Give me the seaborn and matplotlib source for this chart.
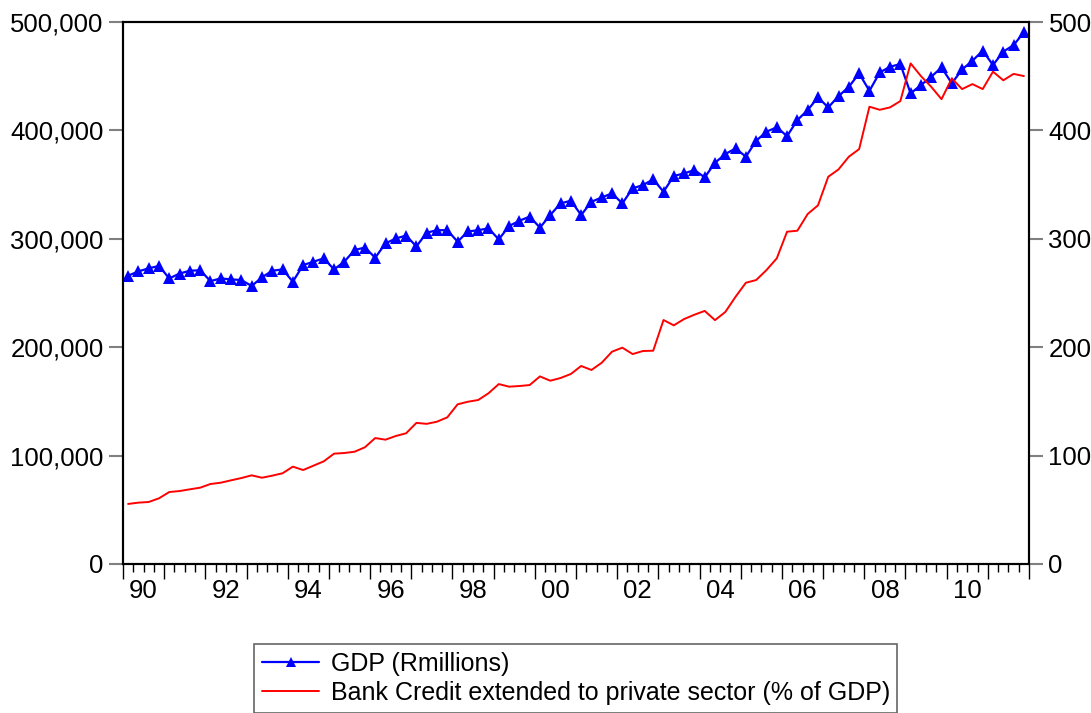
import numpy as np
import pandas as pd
import seaborn as sns
import matplotlib.pyplot as plt
from matplotlib.ticker import FixedLocator, StrMethodFormatter, NullFormatter

# quarterly data 1990Q1 - 2011Q4
gdp = [266, 270, 272.8, 275, 263.5, 268, 270.6, 271, 261, 263.5, 262.6, 262,
       256.5, 264.5, 270.6, 271.8, 260.5, 275.8, 278.9, 282, 271.8, 279, 289.7, 292,
       282.6, 295.8, 300.4, 303, 293, 305.7, 308, 308, 297.4, 306.8, 308, 309.7,
       299.5, 311.8, 316.7, 320.5, 310.4, 322, 332.7, 335.2, 322, 334.2, 338.2, 342,
       332.7, 346.6, 349.6, 354.9, 343.5, 358, 360.4, 363.5, 356.7, 370.2, 378.2, 383.5,
       375.8, 390.5, 398.9, 402.9, 394.8, 409.6, 418.8, 430.5, 421.3, 431.7, 440.3, 452.6,
       436.6, 453.5, 458.8, 461.3, 434.2, 441.9, 449.5, 458.2, 443.5, 456.3, 464.3, 473.6,
       460.4, 472.7, 478.8, 490.5]
gdp = [v * 1000 for v in gdp]  # Rmillions

credit = [55.4, 56.6, 57.2, 60.6, 66.4, 67.3, 68.9, 70.4, 73.8, 75, 77.2, 79.3,
          81.8, 79.6, 81.5, 83.7, 89.8, 86.7, 90.7, 94.7, 101.8, 102.4, 103.6, 107.7,
          116.2, 114.7, 118.1, 120.6, 130.2, 129.3, 131.3, 135.3, 147.3, 149.7, 151.3, 157.5,
          166, 163.6, 164.2, 165.1, 173.1, 169.1, 171.6, 175.3, 182.7, 179, 185.7, 195.9,
          199.6, 193.7, 196.5, 196.8, 225.1, 220.2, 226, 230, 233.5, 225, 232.5, 246.6,
          259.5, 262, 271.2, 282, 306.6, 307.5, 322.9, 330.9, 357.3, 364.1, 375.8, 382.8,
          421.9, 419.1, 421.3, 427.1, 461.9, 450.2, 440.3, 428.9, 448, 438.2, 442.8, 438.2,
          454.3, 446.3, 452.2, 450.2]

year_labels = ['90', '92', '94', '96', '98', '00', '02', '04', '06', '08', '10']

quarters = pd.period_range('1990Q1', '2011Q4', freq='Q')
t = quarters.year + (quarters.quarter - 0.5) / 4
df = pd.DataFrame({'t': t, 'gdp': gdp, 'credit': credit})

sns.set_style("white")
plt.rcParams['font.family'] = ['Liberation Sans', 'DejaVu Sans']
plt.rcParams['font.size'] = 18.5
plt.rcParams['text.color'] = 'black'
plt.rcParams['xtick.color'] = 'black'
plt.rcParams['ytick.color'] = 'black'
plt.rcParams['xtick.labelcolor'] = 'black'
plt.rcParams['ytick.labelcolor'] = 'black'

fig = plt.figure(figsize=(10.91, 7.13), dpi=100)
ax = fig.add_axes([0.1127, 0.209, 0.8305, 0.760])
ax2 = ax.twinx()

sns.lineplot(data=df, x='t', y='gdp', ax=ax, color='#0000ff', linewidth=1.6,
             marker='^', markersize=9, markeredgewidth=0, label='GDP (Rmillions)')
sns.lineplot(data=df, x='t', y='credit', ax=ax2, color='#ff0000', linewidth=1.4,
             label='Bank Credit extended to private sector (% of GDP)')

ax.set_xlim(1990, 2012)
ax.set_ylim(0, 500000)
ax2.set_ylim(0, 500)
ax.set_xlabel('')
ax.set_ylabel('')
ax2.set_ylabel('')

ax.set_yticks(np.arange(0, 500001, 100000))
ax.yaxis.set_major_formatter(StrMethodFormatter('{x:,.0f}'))
ax2.set_yticks(np.arange(0, 501, 100))

ax.xaxis.set_major_locator(FixedLocator(np.arange(1990, 2013)))
ax.xaxis.set_minor_locator(FixedLocator(np.arange(1990, 2012.01, 0.25)))
ax.xaxis.set_major_formatter(NullFormatter())
ax.tick_params(axis='x', which='major', direction='out', length=11, width=1, color='black', bottom=True)
ax.tick_params(axis='x', which='minor', direction='out', length=6, width=1, color='black', bottom=True)
ax.tick_params(axis='y', direction='out', length=10, width=1.5, color='#808080', pad=4, left=True)
ax2.tick_params(axis='y', direction='out', length=10, width=1.5, color='#808080', pad=4, right=True)

sec = ax.secondary_xaxis('bottom')
sec.set_xticks(np.arange(1990, 2012, 2) + 0.5)
sec.set_xticklabels(year_labels)
sec.tick_params(length=0, pad=11, labelcolor='black')
sec.spines['bottom'].set_visible(False)

for a in (ax, ax2):
    for s in a.spines.values():
        s.set_color('black')
        s.set_linewidth(1.5)

h1, l1 = ax.get_legend_handles_labels()
h2, l2 = ax2.get_legend_handles_labels()
if ax2.get_legend():
    ax2.get_legend().remove()
leg = ax.legend(h1 + h2, l1 + l2, loc='upper center', bbox_to_anchor=(0.5, -0.125),
                frameon=True, fancybox=False, shadow=False, borderpad=0.3,
                handlelength=2.3, handletextpad=0.45, labelspacing=0.22, fontsize=18)
leg.get_frame().set_edgecolor('#404040')
leg.get_frame().set_linewidth(1.2)
for lh in leg.get_lines():
    lh.set_markersize(7)

fig.savefig('out.png', dpi=100)
